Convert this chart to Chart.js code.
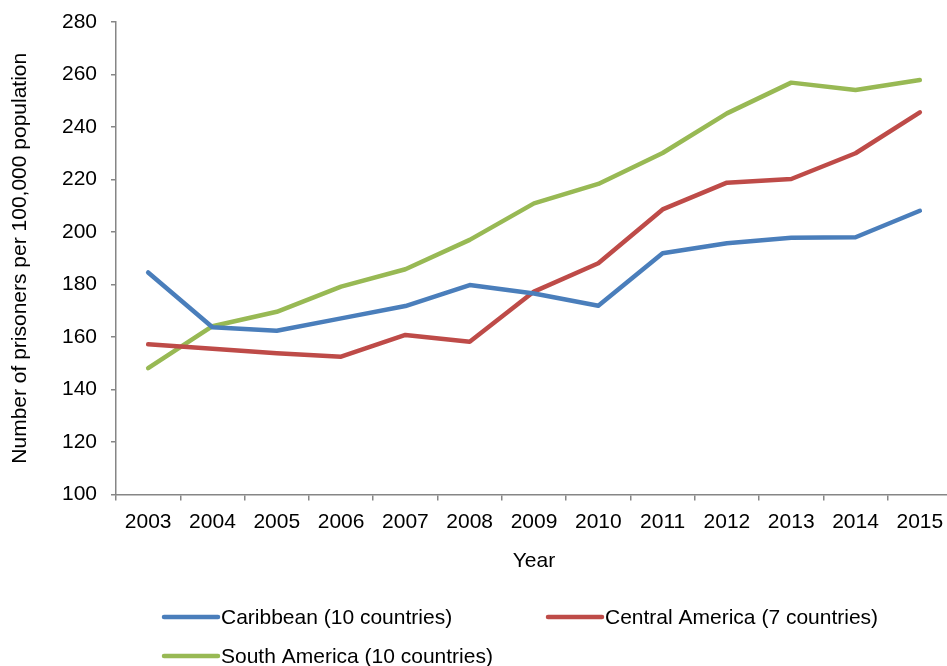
<!DOCTYPE html>
<html><head><meta charset="utf-8">
<script src="https://cdn.jsdelivr.net/npm/chart.js@4.4.0/dist/chart.umd.min.js"></script>
<style>html,body{margin:0;padding:0;background:#fff;overflow:hidden;width:947px;height:666px}canvas{display:block}</style>
</head><body>
<canvas id="c" width="953" height="666" style="width:953px;height:666px"></canvas>
<script>
const years = ['2003','2004','2005','2006','2007','2008','2009','2010','2011','2012','2013','2014','2015'];
const caribbean = [184.6,163.7,162.4,167.1,171.8,179.8,176.6,171.9,191.9,195.7,197.8,198.0,208.1];
const centralAmerica = [157.2,155.5,153.8,152.5,160.8,158.2,177.3,188.1,208.6,218.8,220.2,230.0,245.6];
const southAmerica = [148.1,164.1,169.6,179.2,185.8,197.0,210.9,218.3,230.1,245.2,256.9,254.1,257.9];
const seriesLabels = ['Caribbean (10 countries)','Central America (7 countries)','South America (10 countries)'];
const seriesColors = ['#4A7EBB','#BE4B48','#98B954'];
const yMin = 100, yMax = 280, yStep = 20;
const yTitle = 'Number of prisoners per 100,000 population';
const xTitle = 'Year';

const FONT = 'Liberation Sans, Arial, sans-serif';
Chart.defaults.font.family = FONT;
Chart.defaults.color = '#000';

const legendPlugin = {
  id: 'customLegend',
  afterDraw(chart) {
    const ctx = chart.ctx;
    const slots = [{x:163,y:617},{x:547,y:617},{x:163,y:656}];
    ctx.save();
    ctx.font = '21px ' + FONT;
    ctx.textBaseline = 'middle';
    ctx.textAlign = 'left';
    chart.data.datasets.forEach((ds, i) => {
      const s = slots[i];
      ctx.strokeStyle = ds.borderColor;
      ctx.lineWidth = 4.5;
      ctx.lineCap = 'round';
      ctx.beginPath();
      ctx.moveTo(s.x + 1, s.y);
      ctx.lineTo(s.x + 55, s.y);
      ctx.stroke();
      ctx.fillStyle = '#000';
      ctx.fillText(ds.label, s.x + 58, s.y + 1);
    });
    ctx.restore();
  }
};

const series = [caribbean, centralAmerica, southAmerica];
new Chart(document.getElementById('c'), {
  type: 'line',
  data: {
    labels: years,
    datasets: series.map((d, i) => ({
      label: seriesLabels[i],
      data: d,
      borderColor: seriesColors[i],
      backgroundColor: seriesColors[i],
      borderWidth: 4.5,
      pointRadius: 0,
      tension: 0,
      borderJoinStyle: 'round',
      borderCapStyle: 'round'
    }))
  },
  options: {
    responsive: false,
    animation: false,
    layout: { padding: { left: 0, right: 1, top: 22, bottom: 88.5 } },
    plugins: { legend: { display: false }, tooltip: { enabled: false } },
    scales: {
      x: {
        offset: true,
        grid: { display: true, drawOnChartArea: false, drawTicks: true, tickLength: 6, color: '#868686', lineWidth: 1.5, offset: true },
        border: { display: true, color: '#868686', width: 1.5 },
        ticks: { font: { size: 21 }, color: '#000', padding: 9.5, maxRotation: 0, autoSkip: false },
        title: { display: true, text: xTitle, font: { size: 21 }, color: '#000', padding: { top: 4, bottom: 4 } },
        afterFit(scale) { scale.height = 83; scale.paddingLeft = 0; scale.paddingRight = 0; }
      },
      y: {
        min: yMin, max: yMax,
        grid: { display: true, drawOnChartArea: false, drawTicks: true, tickLength: 5, color: '#868686', lineWidth: 1.5 },
        border: { display: true, color: '#868686', width: 1.5 },
        ticks: { stepSize: yStep, font: { size: 21 }, color: '#000', padding: 14 },
        title: { display: true, text: yTitle, font: { size: 21 }, color: '#000', padding: { top: 8, bottom: 4 } },
        afterFit(scale) { scale.width = 116; scale.paddingTop = 0; scale.paddingBottom = 0; }
      }
    }
  },
  plugins: [legendPlugin]
});
</script>
</body></html>
